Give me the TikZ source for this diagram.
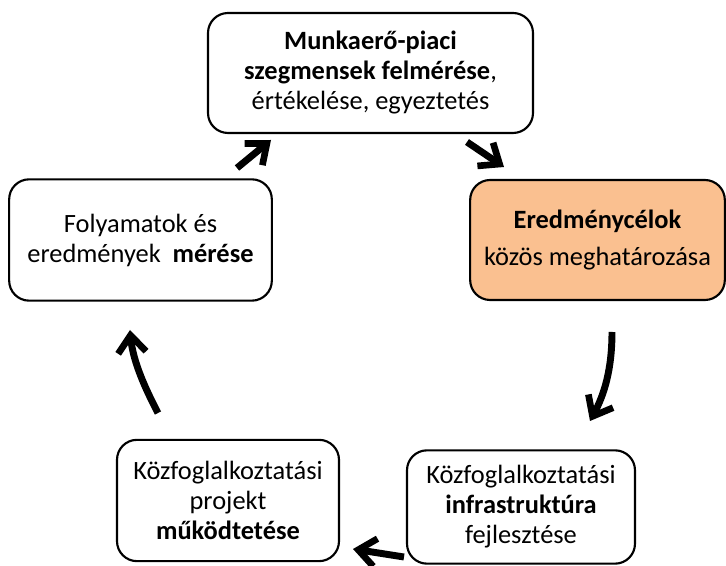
\documentclass[tikz,border=0pt]{standalone}
\usepackage{fontspec}
\setmainfont{Carlito}
\usetikzlibrary{arrows.meta}
\definecolor{peach}{RGB}{250,192,144}
\begin{document}
\begin{tikzpicture}[x=0.75pt,y=-0.75pt,
  box/.style={draw=black, line width=1.6pt, rounded corners=15pt, align=center,
    font=\fontsize{19.8}{22.5}\selectfont, inner sep=0pt},
  bigarrow/.style={line width=5.2pt, -{Straight Barb[length=13pt,width=21pt,line width=5pt]}}]
\useasboundingbox (0,0) rectangle (726,566);
\fill[white] (0,0) rectangle (726,566);

\node[box, minimum width=243.75pt, minimum height=90pt] (top) at (370.5,73)
  {\textbf{Munkaerő-piaci}\\\textbf{szegmensek felmérése},\\értékelése, egyeztetés};
\node[box, fill=peach, minimum width=191pt, minimum height=90pt] (right) at (597.5,240)
  {\textbf{Eredménycélok}\\[5pt]közös meghatározása};
\node[box, minimum width=197pt, minimum height=91pt] (left) at (140.5,240)
  {Folyamatok és\\eredmények\ \ \textbf{mérése}};
\node[box, minimum width=166.5pt, minimum height=91pt] (bl) at (228,500.5)
  {Közfoglalkoztatási\\projekt\\\textbf{működtetése}};
\node[box, minimum width=171pt, minimum height=85pt] (br) at (521,507)
  {Közfoglalkoztatási\\\textbf{infrastruktúra}\\fejlesztése};

\coordinate (a1s) at (237,168);
\coordinate (a1e) at (271,140);
\coordinate (a2s) at (467,142);
\coordinate (a2e) at (504,167);
\coordinate (a3s) at (612,332);
\coordinate (a3e) at (590,421);
\coordinate (a4s) at (404,557);
\coordinate (a4e) at (353,549);
\coordinate (a5s) at (158,413);
\coordinate (a5e) at (130,330);

\draw[bigarrow] (a1s) -- (a1e);
\draw[bigarrow] (a2s) -- (a2e);
\draw[bigarrow] (a3s) .. controls (612,370) and (604,395) .. (a3e);
\draw[bigarrow] (a4s) -- (a4e);
\draw[bigarrow] (a5s) .. controls (146,390) and (133,362) .. (a5e);
\end{tikzpicture}
\end{document}
